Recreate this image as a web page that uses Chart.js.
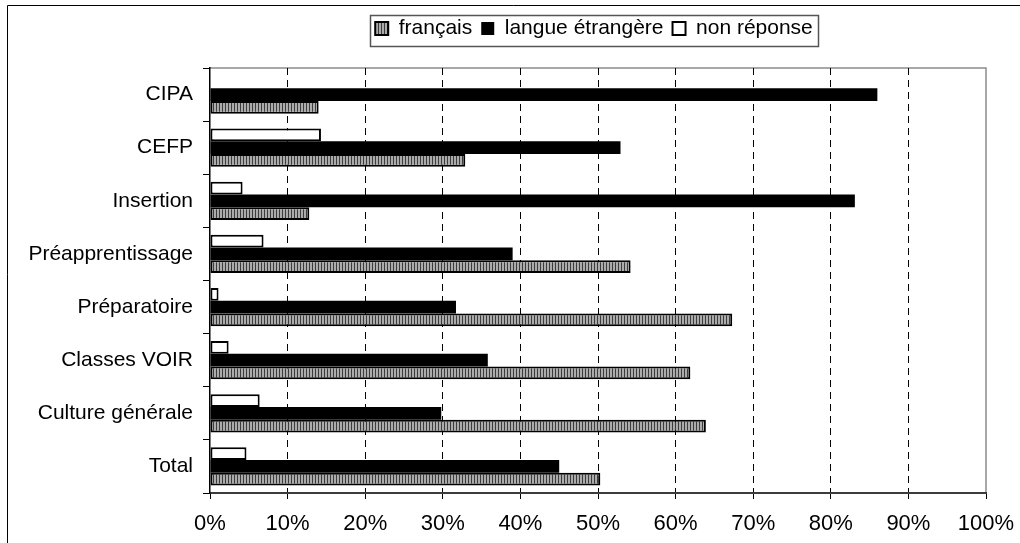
<!DOCTYPE html>
<html><head><meta charset="utf-8">
<script src="https://cdn.jsdelivr.net/npm/chart.js@4/dist/chart.umd.min.js"></script>
<style>html,body{margin:0;padding:0;background:#fff;overflow:hidden}canvas{display:block}</style>
</head><body>
<canvas id="c" width="1020" height="543"></canvas>
<script>
const categories = ['CIPA', 'CEFP', 'Insertion', 'Préapprentissage', 'Préparatoire', 'Classes VOIR', 'Culture générale', 'Total'];
const francais = [14.0, 32.9, 12.8, 54.2, 67.3, 61.9, 63.9, 50.3];
const langueEtrangere = [86.0, 52.9, 83.1, 39.0, 31.7, 35.8, 29.8, 45.0];
const nonReponse = [0, 14.3, 4.2, 6.9, 1.1, 2.4, 6.4, 4.7];
const seriesNames = ['français', 'langue étrangère', 'non réponse'];
const xTickSuffix = '%';

const FONT = "'Liberation Sans', Arial, sans-serif";
const canvas = document.getElementById('c');
const ctx = canvas.getContext('2d');

function hatchPattern() {
  const c = document.createElement('canvas');
  c.width = 3; c.height = 3;
  const g = c.getContext('2d');
  g.fillStyle = '#ababab'; g.fillRect(0, 0, 3, 3);
  g.fillStyle = '#3c3c3c'; g.fillRect(0, 0, 1, 3);
  return ctx.createPattern(c, 'repeat');
}

const PLOT = {top: 69, left: 210, right: 986, bottom: 493};
const LEGEND_CENTER = 594;

const layoutPlugin = {
  id: 'layoutFix',
  beforeLayout(chart) {
    const lg = chart.legend;
    if (lg && !lg._patched) {
      const f = lg.fit;
      lg.fit = function () { f.call(this); this.height = PLOT.top - 10; };
      lg._patched = true;
    }
  },
  afterLayout(chart) {
    const lg = chart.legend;
    const shift = LEGEND_CENTER - (lg.left + lg.right) / 2;
    lg.left += shift; lg.right += shift;
  },
  beforeDraw(chart) {
    const g = chart.ctx;
    g.save();
    g.fillStyle = '#fff';
    g.fillRect(0, 0, chart.width, chart.height);
    g.strokeStyle = '#000'; g.lineWidth = 1;
    g.beginPath();
    g.moveTo(7.5, chart.height); g.lineTo(7.5, 5.5); g.lineTo(chart.width, 5.5);
    g.stroke();
    const a = chart.chartArea;
    g.strokeStyle = '#8c8c8c'; g.lineWidth = 1.5;
    g.beginPath();
    g.moveTo(a.left, a.top); g.lineTo(a.right, a.top); g.lineTo(a.right, a.bottom);
    g.stroke();
    g.restore();
  },
  afterDraw(chart) {
    const lg = chart.legend;
    const p = lg.options.labels.padding;
    const span = lg.lineWidths[0] - p;
    const cx = (lg.left + lg.right) / 2;
    const cy = lg.top + p + 12.5;
    const g = chart.ctx;
    g.save();
    g.strokeStyle = '#555'; g.lineWidth = 1.5;
    g.strokeRect(Math.round(cx - span / 2 - 5) + 0.5, Math.round(cy - 15.5) + 0.5, Math.round(span + 10), 31);
    g.restore();
  }
};

new Chart(ctx, {
  type: 'bar',
  data: {
    labels: categories,
    datasets: [
      {label: seriesNames[2], data: nonReponse, backgroundColor: '#ffffff', borderColor: '#000', borderWidth: 2, borderSkipped: false},
      {label: seriesNames[1], data: langueEtrangere, backgroundColor: '#000000', borderColor: '#000', borderWidth: 0},
      {label: seriesNames[0], data: francais, backgroundColor: hatchPattern(), borderColor: '#000', borderWidth: 2, borderSkipped: false}
    ]
  },
  options: {
    indexAxis: 'y',
    responsive: false,
    animation: false,
    devicePixelRatio: 1,
    categoryPercentage: 0.72,
    barPercentage: 1.0,
    layout: {padding: {top: 9, left: 0, right: 1020 - PLOT.right, bottom: 0}},
    plugins: {
      tooltip: {enabled: false},
      legend: {
        position: 'top',
        reverse: true,
        labels: {
          boxWidth: 13, boxHeight: 13, padding: 9,
          color: '#000',
          font: {family: FONT, size: 21}
        }
      }
    },
    scales: {
      x: {
        type: 'linear', min: 0, max: 100,
        afterFit(s) { s.height = 543 - PLOT.bottom; s.paddingLeft = 0; s.paddingRight = 0; },
        ticks: {stepSize: 10, color: '#000', padding: 12, font: {family: FONT, size: 22},
          callback: v => v + xTickSuffix},
        grid: {
          color: c => (c.index === 0 || c.index === 10) ? 'rgba(0,0,0,0)' : '#000',
          lineWidth: 1, drawTicks: true, tickLength: 6, tickColor: '#000', tickWidth: 1
        },
        border: {display: true, color: '#3c3c3c', width: 2, dash: [7, 5]}
      },
      y: {
        type: 'category',
        afterFit(s) { s.width = PLOT.left; s.paddingTop = 0; s.paddingBottom = 0; },
        ticks: {color: '#000', padding: 10, font: {family: FONT, size: 21}},
        grid: {display: true, offset: true, drawOnChartArea: false, drawTicks: true, tickLength: 7, tickColor: '#000', tickWidth: 1},
        border: {display: true, color: '#000', width: 1.5}
      }
    }
  },
  plugins: [layoutPlugin]
});
</script>
</body></html>
